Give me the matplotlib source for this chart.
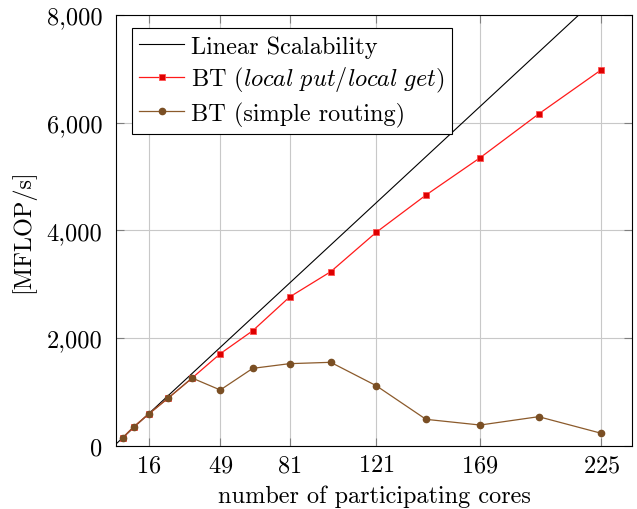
import matplotlib

matplotlib.use("Agg")
import matplotlib.pyplot as plt
from matplotlib.ticker import FuncFormatter

# data
CORES = [4, 9, 16, 25, 36, 49, 64, 81, 100, 121, 144, 169, 196, 225]
BT_LOCAL = [150, 350, 590, 886, 1257, 1709, 2136, 2762, 3232, 3963, 4656, 5349, 6161, 6984]
BT_ROUTING = [150, 350, 590, 886, 1257, 1035, 1437, 1524, 1549, 1115, 490, 384, 539, 230]
LINEAR_X = [1, 225]
LINEAR_Y = [37, 8390]

X_TICKS = [16, 49, 81, 121, 169, 225]
Y_TICKS = [0, 2000, 4000, 6000, 8000]

RED_LINE = "#ff1a1a"
RED_FACE = "#dd0000"
BROWN_LINE = "#8b5a2b"
BROWN_FACE = "#7a4f24"

FS = 17.5

plt.rcParams["font.family"] = ["cmr10", "DejaVu Serif"]
plt.rcParams["mathtext.fontset"] = "cm"
plt.rcParams["axes.formatter.use_mathtext"] = True
plt.rcParams["font.size"] = FS

fig = plt.figure(figsize=(6.37, 5.1), dpi=100)
ax = fig.add_axes([0.1826, 0.1241, 0.8091, 0.8445])

ax.plot(LINEAR_X, LINEAR_Y, color="black", linewidth=0.8, label="Linear Scalability", zorder=3)
ax.plot(
    CORES,
    BT_LOCAL,
    color=RED_LINE,
    linewidth=0.9,
    marker="s",
    markersize=4.5,
    markerfacecolor=RED_FACE,
    markeredgecolor="#ff5050",
    markeredgewidth=0.6,
    label=r"BT ($\mathit{local\ put/local\ get}$)",
    zorder=4,
)
ax.plot(
    CORES,
    BT_ROUTING,
    color=BROWN_LINE,
    linewidth=0.9,
    marker="o",
    markersize=4.5,
    markerfacecolor=BROWN_FACE,
    markeredgecolor=BROWN_FACE,
    label="BT (simple routing)",
    zorder=5,
)

ax.set_xlim(1, 239)
ax.set_ylim(0, 8000)
ax.set_xticks(X_TICKS)
ax.set_yticks(Y_TICKS)
ax.yaxis.set_major_formatter(FuncFormatter(lambda v, _: f"{v:,.0f}"))

ax.set_axisbelow(True)
ax.grid(True, color="#c8c8c8", linewidth=0.8, zorder=0)
ax.tick_params(
    direction="in",
    length=6,
    width=0.8,
    color="#7f7f7f",
    top=True,
    right=True,
    labelsize=FS,
)
ax.tick_params(axis="x", pad=6)
ax.tick_params(axis="y", pad=10)
for spine in ax.spines.values():
    spine.set_linewidth(0.8)
    spine.set_zorder(6)

ax.set_xlabel("number of participating cores", fontsize=FS, labelpad=6)
ax.set_ylabel("[MFLOP/s]", fontsize=FS, labelpad=8)

legend = ax.legend(
    loc="upper left",
    bbox_to_anchor=(0.03, 0.97),
    borderaxespad=0,
    fancybox=False,
    framealpha=1,
    edgecolor="black",
    fontsize=FS,
    handlelength=1.85,
    handletextpad=0.3,
    labelspacing=0.3,
    borderpad=0.3,
)
legend.get_frame().set_linewidth(0.8)
legend.set_zorder(10)

fig.savefig("out.png", dpi=100)
plt.close(fig)
